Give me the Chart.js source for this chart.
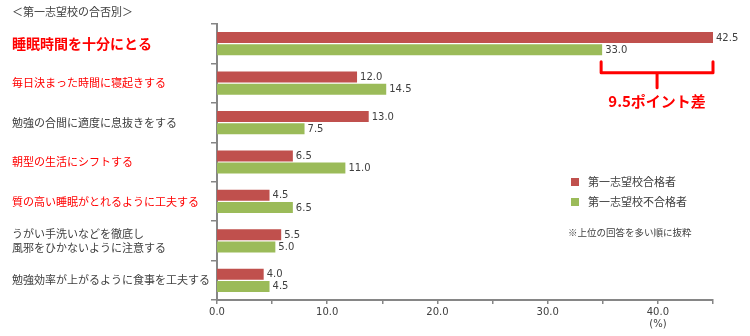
<!DOCTYPE html>
<html>
<head>
<meta charset="utf-8">
<script src="https://cdn.jsdelivr.net/npm/chart.js@4"></script>
<style>
   html, body { margin: 0; padding: 0; background: #fff; }
   #wrap { width: 750px; height: 336px; }
</style>
</head>
<body>
<div id="wrap"><canvas id="surveyChart"></canvas></div>
<script>
// Chart data
const categories = [
   '睡眠時間を十分にとる',
   '毎日決まった時間に寝起きする',
   '勉強の合間に適度に息抜きをする',
   '朝型の生活にシフトする',
   '質の高い睡眠がとれるように工夫する',
   ['うがい手洗いなどを徹底し', '風邪をひかないように注意する'],
   '勉強効率が上がるように食事を工夫する'
];
const passValues = [42.5, 12.0, 13.0, 6.5, 4.5, 5.5, 4.0];
const failValues = [33.0, 14.5, 7.5, 11.0, 6.5, 5.0, 4.5];
const seriesNames = ['第一志望校合格者', '第一志望校不合格者'];
const labelColors = ['#FF0000', '#FF0000', '#404040', '#FF0000', '#FF0000', '#404040', '#404040'];
const xTickValues = [0, 5, 10, 15, 20, 25, 30, 35, 40, 45];

const CJK = '"Noto Sans CJK JP", sans-serif';
const NUM = '"DejaVu Sans", Verdana, sans-serif';
const axisGray = '#868686';
const textGray = '#404040';

// Labels, legend, note and bracket drawn on top of the chart
const overlayPlugin = {
   id: 'overlay',
   afterDatasetsDraw(chart) {
      const ctx = chart.ctx;
      ctx.save();
      ctx.font = '10px ' + NUM;
      ctx.fillStyle = textGray;
      ctx.textAlign = 'left';
      ctx.textBaseline = 'middle';
      chart.data.datasets.forEach((ds, i) => {
         chart.getDatasetMeta(i).data.forEach((bar, j) => {
            ctx.fillText(ds.data[j].toFixed(1), bar.x + 3, bar.y + 0.5);
         });
      });
      ctx.restore();
   },
   afterDraw(chart) {
      const ctx = chart.ctx;
      const xb = chart.scales.xb;
      const x = chart.scales.x;
      const y = chart.scales.y;
      ctx.save();

      // title
      ctx.font = '11px ' + CJK;
      ctx.fillStyle = textGray;
      ctx.textBaseline = 'middle';
      ctx.fillText('＜第一志望校の合否別＞', 12, 12);

      // unit under the 40 tick
      ctx.font = '10px ' + NUM;
      ctx.textAlign = 'center';
      ctx.fillText('(%)', x.getPixelForValue(40), 324);

      // legend
      ctx.textAlign = 'left';
      chart.data.datasets.forEach((ds, i) => {
         const ly = 182 + i * 20;
         ctx.fillStyle = ds.backgroundColor;
         ctx.fillRect(571, ly - 4, 8, 8);
         ctx.fillStyle = textGray;
         ctx.font = '11px ' + CJK;
         ctx.fillText(ds.label, 588, ly);
      });
      ctx.font = '9.5px ' + CJK;
      ctx.fillText('※上位の回答を多い順に抜粋', 568, 232);

      // bracket showing the gap on the first item
      const left = xb.getPixelForValue(failValues[0]) - 1;
      const right = xb.getPixelForValue(passValues[0]);
      const mid = (left + right) / 2;
      const cy = y.getPixelForValue(0);
      ctx.strokeStyle = '#FF0000';
      ctx.lineWidth = 3;
      ctx.lineJoin = 'round';
      ctx.lineCap = 'round';
      ctx.beginPath();
      ctx.moveTo(left, cy + 18);
      ctx.lineTo(left, cy + 29);
      ctx.lineTo(right, cy + 29);
      ctx.lineTo(right, cy + 18);
      ctx.moveTo(mid, cy + 29);
      ctx.lineTo(mid, cy + 44);
      ctx.stroke();

      ctx.fillStyle = '#FF0000';
      ctx.font = 'bold 15px ' + CJK;
      ctx.textAlign = 'center';
      ctx.fillText((passValues[0] - failValues[0]).toFixed(1) + 'ポイント差', mid, cy + 58);
      ctx.restore();
   }
};

const ctx = document.getElementById('surveyChart').getContext('2d');
new Chart(ctx, {
   type: 'bar',
   data: {
      labels: categories,
      datasets: [{
         label: seriesNames[0],
         data: passValues,
         backgroundColor: '#C0504D',
         xAxisID: 'xb',
         categoryPercentage: 0.62,
         barPercentage: 0.9
      }, {
         label: seriesNames[1],
         data: failValues,
         backgroundColor: '#9BBB59',
         xAxisID: 'xb',
         categoryPercentage: 0.62,
         barPercentage: 0.9
      }]
   },
   options: {
      indexAxis: 'y',
      responsive: true,
      maintainAspectRatio: false,
      animation: false,
      layout: { padding: { left: 12, right: 37, top: 24, bottom: 0 } },
      plugins: {
         legend: { display: false },
         tooltip: { enabled: false }
      },
      scales: {
         y: {
            position: 'left',
            afterFit: (scale) => { scale.width = 205; },
            grid: { drawOnChartArea: false, tickLength: 6, color: axisGray, lineWidth: 1.5 },
            border: { color: axisGray, width: 2 },
            ticks: {
               autoSkip: false,
               crossAlign: 'far',
               color: (c) => labelColors[c.index],
               font: (c) => c.index === 0
                  ? { family: CJK, size: 14, weight: 'bold', lineHeight: 1.25 }
                  : { family: CJK, size: 11, lineHeight: 1.25 }
            }
         },
         x: {
            position: 'bottom',
            min: 0,
            max: 45,
            afterFit: (scale) => { scale.height = 36; },
            afterBuildTicks: (scale) => { scale.ticks = xTickValues.map(v => ({ value: v })); },
            grid: { drawOnChartArea: false, tickLength: 4, color: axisGray, lineWidth: 1.5 },
            border: { color: axisGray, width: 2 },
            ticks: {
               autoSkip: false,
               maxRotation: 0,
               padding: 2,
               color: textGray,
               font: { family: NUM, size: 10 },
               callback: (v) => v % 10 === 0 ? Number(v).toFixed(1) : ''
            }
         },
         xb: {
            type: 'linear',
            axis: 'x',
            position: 'bottom',
            display: false,
            min: 0,
            max: 42.5
         }
      }
   },
   plugins: [overlayPlugin]
});
</script>
</body>
</html>
